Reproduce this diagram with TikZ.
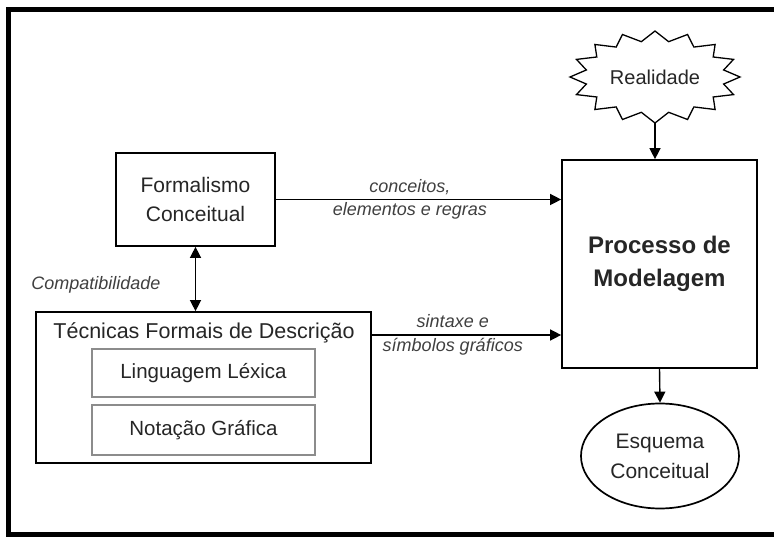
\documentclass[tikz,border=0pt]{standalone}
\usepackage{fontspec}
\setmainfont{Liberation Sans}
\usetikzlibrary{arrows.meta,shapes.geometric}
\begin{document}
\begin{tikzpicture}[x=1pt,y=-1pt,
  >={Triangle[length=11pt,width=11pt]},
  box/.style={draw=black, line width=1.7pt, inner sep=0pt, text=black!85, align=center},
  ibox/.style={draw=black!45, line width=1.1pt, inner sep=0pt, text=black!85, align=center},
  arr/.style={line width=1.4pt},
  lbl/.style={font=\fontsize{18}{23.5}\selectfont\itshape, text=black!75, align=center, inner sep=0pt},
  txt/.style={text=black!85, align=center, inner sep=0pt}
]
\useasboundingbox (0,0) rectangle (774,537);
\fill[white] (0,0) rectangle (774,537);
\draw[line width=5pt] (8.5,9.5) rectangle (800,534);

% Realidade (starburst)
\draw[line width=1.3pt, fill=white] (740,77)
  \foreach \i in {0,...,15} {
    -- ({655+70*cos(22.5*\i+11.25)},{77+36*sin(22.5*\i+11.25)})
    -- ({655+85*cos(22.5*\i+22.5)},{77+46*sin(22.5*\i+22.5)})
  } -- cycle;
\node[txt, font=\fontsize{20}{24}\selectfont, minimum width=170pt, minimum height=92pt] (real) at (655,77) {Realidade};

% Processo de Modelagem
\node[box, minimum width=195pt, minimum height=208pt,
  font=\fontsize{24}{33}\selectfont\bfseries] (proc) at (659.5,264) {Processo de\\Modelagem};

% Esquema Conceitual
\node[box, ellipse, minimum width=158pt, minimum height=105pt,
  font=\fontsize{21}{30}\selectfont] (esq) at (660,456) {Esquema\\Conceitual};

% Formalismo Conceitual
\node[box, minimum width=159pt, minimum height=93pt,
  font=\fontsize{21}{29}\selectfont] (form) at (195.5,199.5) {Formalismo\\Conceitual};

% Tecnicas Formais de Descricao
\node[box, minimum width=335pt, minimum height=151pt] (tec) at (203.5,387.5) {};
\node[txt, font=\fontsize{21.5}{26}\selectfont] (tect) at (204,333) {Técnicas Formais de Descrição};
\node[ibox, minimum width=223pt, minimum height=48pt,
  font=\fontsize{20.5}{24}\selectfont] (lex) at (203.5,373) {Linguagem Léxica};
\node[ibox, minimum width=223pt, minimum height=50pt,
  font=\fontsize{20.5}{24}\selectfont] (not) at (203.5,430) {Notação Gráfica};

% connectors
\draw[arr,->] (real.south) -- (real.south |- proc.north);
\draw[arr,->] (proc.south) -- (esq.north);
\draw[arr,->] (form.east) -- (form.east -| proc.west)
  node[lbl, pos=0.47] (lconc) {conceitos,\\elementos e regras};
\draw[arr,<->] (form.south) -- (form.south |- tec.north);
\node[lbl] (lcomp) at (96,285) {Compatibilidade};
\coordinate (tecout) at (371,335);
\draw[arr,->] (tecout) -- (tecout -| proc.west)
  node[lbl, pos=0.43] (lsint) {sintaxe e\\símbolos gráficos};
\end{tikzpicture}
\end{document}
